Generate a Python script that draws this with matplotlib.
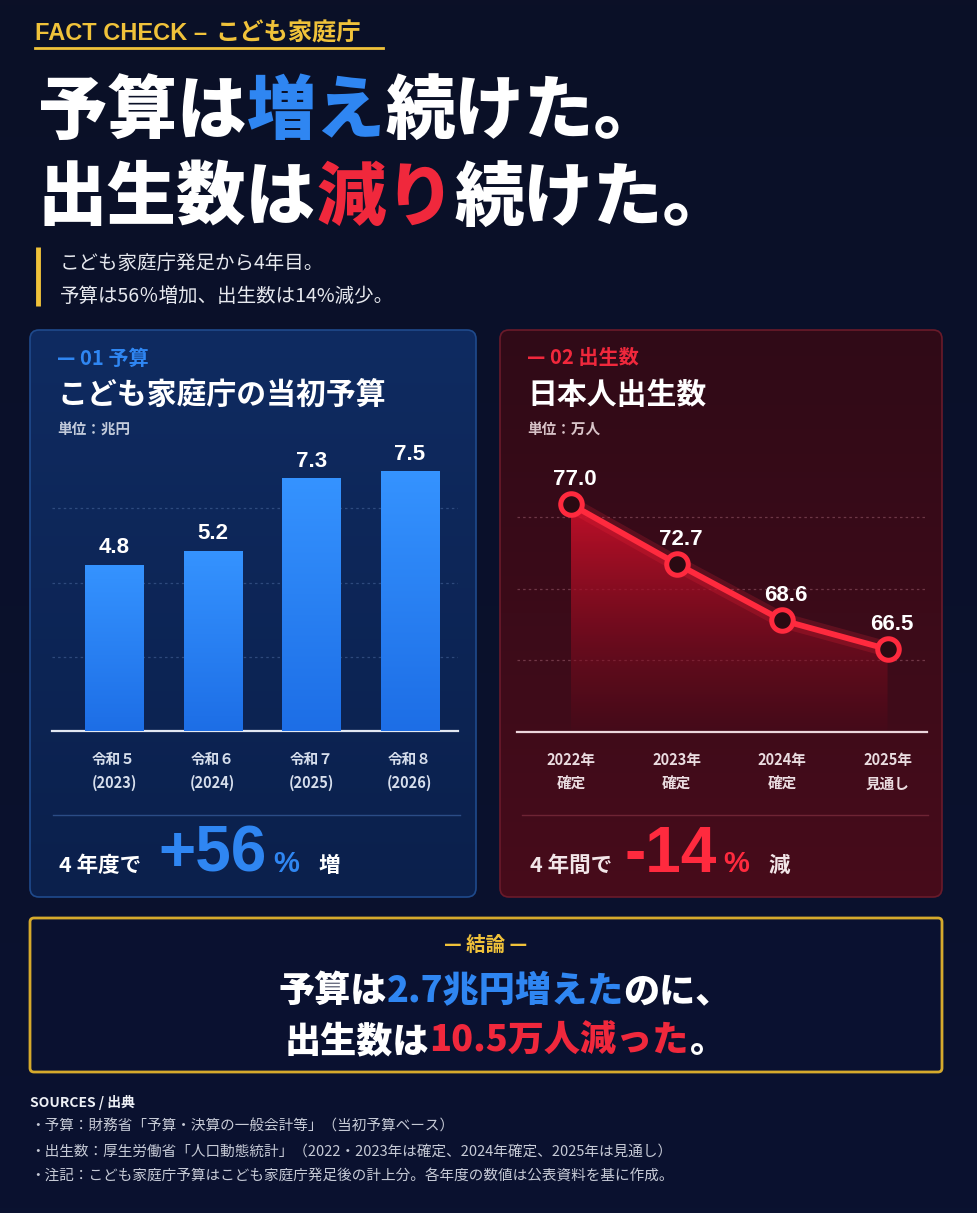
import numpy as np
import matplotlib.pyplot as plt
from matplotlib.patches import FancyBboxPatch
from matplotlib.colors import LinearSegmentedColormap, to_rgb

plt.rcParams['font.family'] = ['Noto Sans CJK JP', 'DejaVu Sans']

# データ
budget_labels = ['令和５\n(2023)', '令和６\n(2024)', '令和７\n(2025)', '令和８\n(2026)']
budget = [4.8, 5.2, 7.3, 7.5]          # 兆円
birth_labels = ['2022年\n確定', '2023年\n確定', '2024年\n確定', '2025年\n見通し']
births = [77.0, 72.7, 68.6, 66.5]      # 万人

W, H = 977, 1213
BG_TOP, BG_BOT = '#0b1027', '#0a1230'
BLUE = '#2f86f2'
RED = '#f0283c'
RED_LINE = '#ff2a3e'
YEL = '#f0c23a'
NUM = 'Liberation Sans'

fig = plt.figure(figsize=(W / 100, H / 100), dpi=100)
bg = fig.add_axes([0, 0, 1, 1])
bg.set_zorder(0)
bg.axis('off')
grad = np.linspace(0, 1, 256).reshape(-1, 1)
bg.imshow(grad, cmap=LinearSegmentedColormap.from_list('bg', [BG_TOP, BG_BOT]),
          extent=[0, W, H, 0], aspect='auto', zorder=0)
R = fig.canvas.get_renderer()


def panel(x0, y0, x1, y1, c_top, c_bot, edge, r=9, lw=1.2):
    box = FancyBboxPatch((x0, y0), x1 - x0, y1 - y0,
                         boxstyle=f'round,pad=0,rounding_size={r}',
                         fc='none', ec=edge, lw=lw, zorder=2)
    bg.add_patch(box)
    im = bg.imshow(grad, cmap=LinearSegmentedColormap.from_list('p', [c_top, c_bot]),
                   extent=[x0, x1, y1, y0], aspect='auto', zorder=1)
    im.set_clip_path(box)
    return box


def rich(x, y, parts, ha='left', va='baseline'):
    # parts: (文字, 色, サイズ, 太さ, フォント, 後ろの余白px)
    objs = []
    cx = x
    for s, col, size, wt, fam, gap in parts:
        kw = {} if fam is None else {'family': fam}
        t = bg.text(cx, y, s, color=col, fontsize=size, fontweight=wt,
                    ha='left', va=va, zorder=6, **kw)
        cx += t.get_window_extent(R).width + gap
        objs.append(t)
    if ha == 'center':
        shift = (cx - x) / 2
        for t in objs:
            t.set_x(t.get_position()[0] - shift)
    return objs


# ヘッダー
rich(35, 34, [('FACT CHECK –', YEL, 17, 'bold', NUM, 8),
              ('こども家庭庁', YEL, 17.5, 'bold', None, 0)], va='center')
bg.plot([35, 383], [48, 48], color=YEL, lw=2, zorder=6)

T = 50
rich(38, 112, [('予算は', 'white', T, 'heavy', None, 0),
               ('増え', BLUE, T, 'heavy', None, 0),
               ('続けた。', 'white', T, 'heavy', None, 0)], va='center')
rich(38, 199, [('出生数は', 'white', T, 'heavy', None, 0),
               ('減り', RED, T, 'heavy', None, 0),
               ('続けた。', 'white', T, 'heavy', None, 0)], va='center')

bg.plot([38, 38], [247, 306], color=YEL, lw=3.5, solid_capstyle='butt', zorder=6)
bg.text(60, 263, 'こども家庭庁発足から4年目。', color='#e6e8ee', fontsize=14, va='center', zorder=6)
bg.text(60, 296, '予算は56％増加、出生数は14%減少。', color='#e6e8ee', fontsize=14, va='center', zorder=6)

# パネル
panel(30, 330, 476, 897, '#0f2b61', '#0b204c', '#1f4a8c')
panel(500, 330, 942, 897, '#300a17', '#470c1b', '#6a1a2a')

bg.text(57, 358, '— 01 予算', color=BLUE, fontsize=14.5, fontweight='bold', va='center', zorder=6)
bg.text(57, 395, 'こども家庭庁の当初予算', color='white', fontsize=21.5, fontweight='bold', va='center', zorder=6)
bg.text(57, 429, '単位：兆円', color='#c3cbdb', fontsize=10.5, fontweight='bold', va='center', zorder=6)

bg.text(527, 358, '— 02 出生数', color=RED, fontsize=14.5, fontweight='bold', va='center', zorder=6)
bg.text(527, 395, '日本人出生数', color='white', fontsize=21.5, fontweight='bold', va='center', zorder=6)
bg.text(527, 429, '単位：万人', color='#d8c3c8', fontsize=10.5, fontweight='bold', va='center', zorder=6)

bg.plot([53, 460], [815, 815], color='#2b4c86', lw=1, zorder=6)
bg.plot([522, 928], [815, 815], color='#6e2434', lw=1, zorder=6)

rich(59, 872, [('4 年度で', 'white', 15.5, 'bold', None, 17),
               ('+56', BLUE, 46, 'bold', NUM, 7),
               ('%', BLUE, 21, 'bold', NUM, 19),
               ('増', 'white', 15.5, 'bold', None, 0)])
rich(530, 872, [('4 年間で', '#f2e6e8', 15.5, 'bold', None, 12),
                ('-14', RED_LINE, 46, 'bold', NUM, 7),
                ('%', RED_LINE, 21, 'bold', NUM, 19),
                ('減', '#f2e6e8', 15.5, 'bold', None, 0)])

# 予算の棒グラフ
ax1 = fig.add_axes([52 / W, 1 - 731 / H, (458 - 52) / W, (731 - 434) / H])
ax1.set_zorder(3)
ax1.patch.set_alpha(0)
x1 = np.arange(len(budget))
bars = ax1.bar(x1, budget, width=0.59, color='#2a84f6', zorder=3)
bar_cmap = LinearSegmentedColormap.from_list('bar', ['#1d6ee6', '#3593ff'])
for b in bars:
    ax1.imshow(grad, cmap=bar_cmap, origin='lower', aspect='auto', zorder=3.1,
               extent=[b.get_x(), b.get_x() + b.get_width(), 0, b.get_height()])
for i, v in enumerate(budget):
    ax1.annotate(f'{v:.1f}', (i, v), xytext=(0, 5), textcoords='offset points',
                 ha='center', va='bottom', color='white', fontsize=16,
                 fontweight='bold', family=NUM)
ax1.set_xlim(-0.63, 3.49)
ax1.set_ylim(0, 8.6)
ax1.set_yticks([8.6 * k / 4 for k in (1, 2, 3)])
ax1.yaxis.grid(True, color='#5878ad', alpha=0.45, lw=0.9, ls=(0, (2, 2.5)))
ax1.set_axisbelow(True)
ax1.set_xticks(x1, budget_labels)
ax1.tick_params(axis='y', length=0, labelleft=False)
ax1.tick_params(axis='x', length=0, pad=14.5, labelsize=10.5, labelcolor='#d6deec')
for lb in ax1.get_xticklabels():
    lb.set_fontweight('bold')
    lb.set_linespacing(1.6)
for s in ['top', 'right', 'left']:
    ax1.spines[s].set_visible(False)
ax1.spines['bottom'].set_color('#e2e8f2')
ax1.spines['bottom'].set_linewidth(1.6)

# 出生数の折れ線グラフ
ax2 = fig.add_axes([517 / W, 1 - 732 / H, 410 / W, (732 - 445) / H])
ax2.set_zorder(3)
ax2.patch.set_alpha(0)
x2 = np.arange(len(births))
ymin, ymax = 60.5, 81.3
poly = ax2.fill_between(x2, births, ymin, color='none', lw=0)
fill = np.zeros((256, 1, 4))
a = np.linspace(0, 1, 256)
c_lo, c_hi = np.array(to_rgb('#640a1a')), np.array(to_rgb('#c8102a'))
fill[:, 0, :3] = c_lo + (c_hi - c_lo) * a[:, None]
fill[:, 0, 3] = 0.08 + 0.87 * a ** 0.6
im = ax2.imshow(fill, origin='lower', aspect='auto', zorder=2,
                extent=[x2[0], x2[-1], ymin, max(births)])
im.set_clip_path(poly.get_paths()[0], ax2.transData)
ax2.plot(x2, births, color=RED_LINE, lw=11, alpha=0.18, zorder=3, solid_capstyle='round')
ax2.plot(x2, births, color=RED_LINE, lw=4.2, zorder=4, solid_capstyle='round')
ax2.plot(x2, births, 'o', ms=15.5, mfc='#2a0a12', mec=RED_LINE, mew=3.6, zorder=5)
for i, v in enumerate(births):
    ax2.annotate(f'{v:.1f}', (i, v), xytext=(3, 10), textcoords='offset points',
                 ha='center', va='bottom', color='white', fontsize=16,
                 fontweight='bold', family=NUM)
ax2.set_xlim(-0.512, 3.374)
ax2.set_ylim(ymin, ymax)
ax2.set_yticks([ymin + (ymax - ymin) * k / 4 for k in (1, 2, 3)])
ax2.yaxis.grid(True, color='#b07080', alpha=0.45, lw=0.9, ls=(0, (2, 2.5)))
ax2.set_axisbelow(True)
ax2.set_xticks(x2, birth_labels)
ax2.tick_params(axis='y', length=0, labelleft=False)
ax2.tick_params(axis='x', length=0, pad=14.5, labelsize=10.5, labelcolor='#eadce0')
for lb in ax2.get_xticklabels():
    lb.set_fontweight('bold')
    lb.set_linespacing(1.6)
for s in ['top', 'right', 'left']:
    ax2.spines[s].set_visible(False)
ax2.spines['bottom'].set_color('#ecd6dc')
ax2.spines['bottom'].set_linewidth(1.6)

# 結論
box = FancyBboxPatch((30, 918), 912, 154, boxstyle='round,pad=0,rounding_size=4',
                     fc='#0a1130', ec='#d6aa2c', lw=2, zorder=2)
bg.add_patch(box)
bg.text(486, 945, '— 結論 —', color=YEL, fontsize=14, fontweight='bold',
        ha='center', va='center', zorder=6)
C = 26
rich(505, 991, [('予算は', 'white', C, 'heavy', None, 0),
                ('2.7兆円増えた', BLUE, C, 'heavy', None, 0),
                ('のに、', 'white', C, 'heavy', None, 0)], ha='center', va='center')
rich(505, 1041, [('出生数は', 'white', C, 'heavy', None, 0),
                 ('10.5万人減った', RED, C, 'heavy', None, 0),
                 ('。', 'white', C, 'heavy', None, 0)], ha='center', va='center')

# 出典
bg.text(30, 1102, 'SOURCES / 出典', color='#eef0f5', fontsize=10, fontweight='bold', va='center', zorder=6)
sources = ['・予算：財務省「予算・決算の一般会計等」（当初予算ベース）',
           '・出生数：厚生労働省「人口動態統計」（2022・2023年は確定、2024年確定、2025年は見通し）',
           '・注記：こども家庭庁予算はこども家庭庁発足後の計上分。各年度の数値は公表資料を基に作成。']
for k, s in enumerate(sources):
    bg.text(30, 1127 + 24.5 * k, s, color='#c6cad6', fontsize=10.5, va='center', zorder=6)

bg.set_xlim(0, W)
bg.set_ylim(H, 0)
fig.savefig('out.png', dpi=100, facecolor=BG_TOP)
